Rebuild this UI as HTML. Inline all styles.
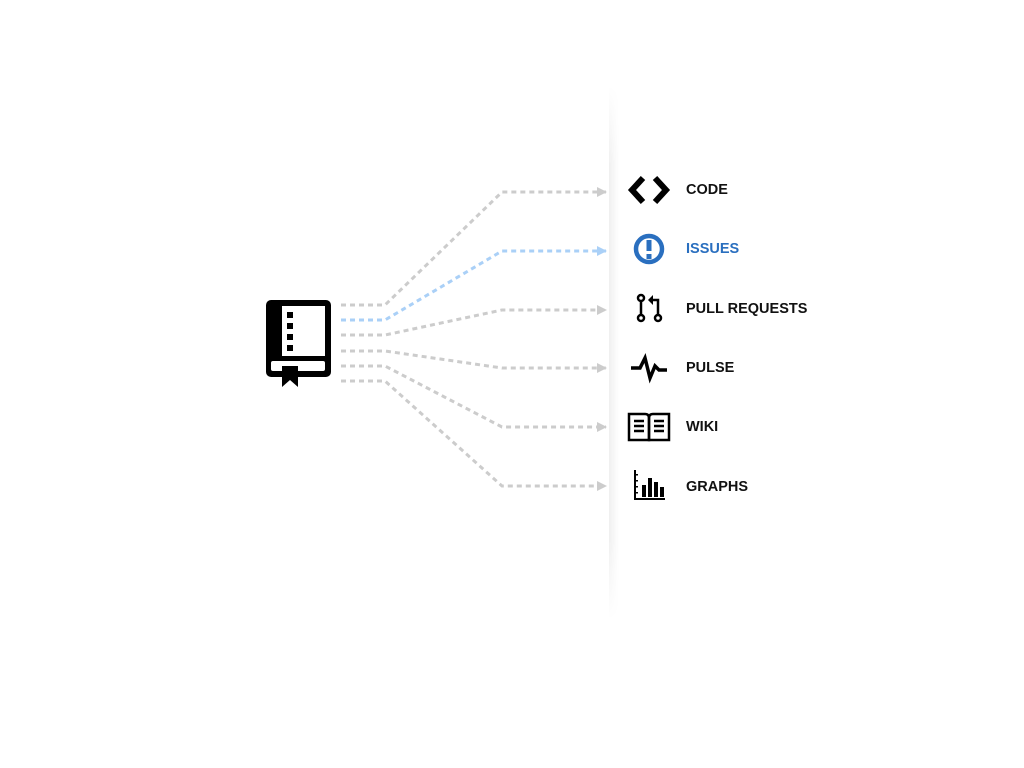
<!DOCTYPE html>
<html><head><style>
body{margin:0;width:1024px;height:768px;background:#fff;position:relative;overflow:hidden;font-family:"Liberation Sans",sans-serif}
.panel{position:absolute;left:609px;top:85px;width:30px;height:535px;background:linear-gradient(to right,rgba(0,0,0,0.06),rgba(0,0,0,0) 10px);-webkit-mask-image:linear-gradient(to bottom,transparent,#000 15%,#000 85%,transparent);mask-image:linear-gradient(to bottom,transparent,#000 15%,#000 85%,transparent)}
.lbl{position:absolute;left:686px;font-weight:bold;font-size:14.5px;color:#111}
</style></head><body>
<div class="panel"></div>
<svg width="1024" height="768" style="position:absolute;left:0;top:0">
<defs>
<marker id="ag" markerWidth="10" markerHeight="10" refX="9" refY="5" orient="auto" markerUnits="userSpaceOnUse"><path d="M0,0 L10,5 L0,10z" fill="#ccc"/></marker>
<marker id="ab" markerWidth="10" markerHeight="10" refX="9" refY="5" orient="auto" markerUnits="userSpaceOnUse"><path d="M0,0 L10,5 L0,10z" fill="#aad0f7"/></marker>
</defs>
<g fill="none" stroke-width="3" stroke-dasharray="5,4">
<polyline points="341,305 385,305 502,192 606,192" stroke="#ccc" marker-end="url(#ag)"/>
<polyline points="341,335 385,335 502,310 606,310" stroke="#ccc" marker-end="url(#ag)"/>
<polyline points="341,351 385,351 502,368 606,368" stroke="#ccc" marker-end="url(#ag)"/>
<polyline points="341,366 385,366 502,427 606,427" stroke="#ccc" marker-end="url(#ag)"/>
<polyline points="341,381 385,381 502,486 606,486" stroke="#ccc" marker-end="url(#ag)"/>
<polyline points="341,320 385,320 502,251 606,251" stroke="#aad0f7" marker-end="url(#ab)"/>
</g>
<!-- book -->
<rect x="266" y="300" width="65" height="77" rx="5" fill="#000"/>
<rect x="282" y="306" width="43" height="50" fill="#fff"/>
<rect x="271" y="361" width="54" height="10" rx="2" fill="#fff"/>
<g fill="#000"><rect x="287" y="312" width="6" height="6"/><rect x="287" y="323" width="6" height="6"/><rect x="287" y="334" width="6" height="6"/><rect x="287" y="345" width="6" height="6"/></g>
<path d="M282,366 H298 V387 L290,380 L282,387Z" fill="#000"/>
<!-- code -->
<path d="M643,178 L632,190 L643,202 M655,178 L666,190 L655,202" stroke="#000" stroke-width="6" fill="none"/>
<!-- issues -->
<circle cx="649" cy="249" r="13" fill="none" stroke="#2a6fbf" stroke-width="4.5"/>
<rect x="646.5" y="240" width="5" height="11" fill="#2a6fbf"/><rect x="646.5" y="254" width="5" height="5" fill="#2a6fbf"/>
<!-- PR -->
<g stroke="#000" stroke-width="2.5" fill="none">
<circle cx="641" cy="298" r="3"/><circle cx="641" cy="318" r="3"/><circle cx="658" cy="318" r="3"/>
<line x1="641" y1="301" x2="641" y2="315"/><path d="M658,315 V300 H650"/></g>
<path d="M648,300 L653,295 L653,305Z" fill="#000"/>
<!-- pulse -->
<path d="M631,368 H640 L645,358 L650,378 L655,366 L659,370 H667" stroke="#000" stroke-width="3.5" fill="none"/>
<!-- wiki -->
<g stroke="#000" stroke-width="2.5" fill="none">
<path d="M629,414 H645 Q649,414 649,418 V440 H629Z"/><path d="M669,414 H653 Q649,414 649,418 V440 H669Z"/>
<path d="M634,421h10M634,426h10M634,431h10M654,421h10M654,426h10M654,431h10"/></g>
<!-- graphs -->
<g fill="#000"><rect x="634" y="470" width="2" height="30"/><rect x="634" y="498" width="31" height="2"/>
<rect x="642" y="485" width="4" height="12"/><rect x="648" y="478" width="4" height="19"/><rect x="654" y="482" width="4" height="15"/><rect x="660" y="487" width="4" height="10"/>
<rect x="636" y="474" width="2" height="1.5"/><rect x="636" y="480" width="2" height="1.5"/><rect x="636" y="486" width="2" height="1.5"/><rect x="636" y="492" width="2" height="1.5"/></g>
</svg>
<div class="lbl" style="top:182px">CODE</div>
<div class="lbl" style="top:241px;color:#2a6fbf">ISSUES</div>
<div class="lbl" style="top:301px">PULL REQUESTS</div>
<div class="lbl" style="top:360px">PULSE</div>
<div class="lbl" style="top:419px">WIKI</div>
<div class="lbl" style="top:479px">GRAPHS</div>
</body></html>
